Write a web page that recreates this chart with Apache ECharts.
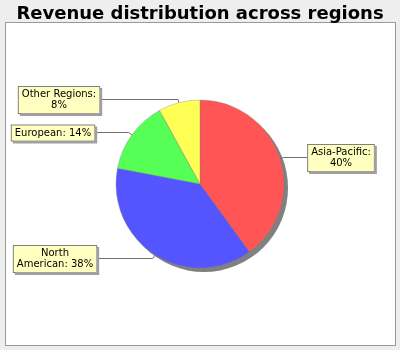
<!DOCTYPE html>
<html>
<head>
<meta charset="utf-8">
<script src="https://cdn.jsdelivr.net/npm/echarts@6/dist/echarts.min.js"></script>
<style>html,body{margin:0;padding:0;background:#eeeeee}#c{width:400px;height:350px}</style>
</head>
<body>
<div id="c"></div>
<script>
var regions = ['Asia-Pacific', 'North American', 'European', 'Other Regions'];
var shares = [40, 38, 14, 8];
var labelTexts = ['Asia-Pacific:\n40%', 'North\nAmerican: 38%', 'European: 14%', 'Other Regions:\n8%'];
var sliceColors = ['#ff5555', '#5555ff', '#55ff55', '#ffff55'];

var CX = 200, CY = 184, R = 84;
var total = shares.reduce(function (a, b) { return a + b; }, 0);
function midAngle(i) {
  var cum = 0;
  for (var k = 0; k < i; k++) cum += shares[k];
  return ((cum + shares[i] / 2) / total) * 2 * Math.PI;
}
var leftEdge = { 1: 97, 2: 95, 3: 100 };

var chart = echarts.init(document.getElementById('c'), null, { renderer: 'canvas' });
chart.setOption({
  backgroundColor: '#eeeeee',
  animation: false,
  textStyle: { fontFamily: 'DejaVu Sans' },
  title: {
    text: 'Revenue distribution across regions',
    left: 'center',
    top: 0,
    textStyle: { fontFamily: 'DejaVu Sans', fontSize: 18, fontWeight: 'bold', color: '#000' }
  },
  graphic: [{
    type: 'rect', z: 0, silent: true,
    shape: { x: 5.5, y: 22.5, width: 390, height: 323 },
    style: { fill: '#ffffff', stroke: '#999999', lineWidth: 1 }
  }],
  series: [{
    type: 'pie', z: 1, silent: true,
    center: [CX + 4, CY + 4], radius: R,
    label: { show: false }, labelLine: { show: false },
    itemStyle: { color: '#808080', borderWidth: 0 },
    emphasis: { disabled: true },
    data: [{ value: 1, name: 'shadow' }]
  }, {
    type: 'pie', z: 2,
    center: [CX, CY], radius: R,
    startAngle: 90, clockwise: true,
    avoidLabelOverlap: false,
    data: regions.map(function (n, i) {
      return { name: n, value: shares[i], itemStyle: { color: sliceColors[i] } };
    }),
    itemStyle: { borderColor: 'rgba(128,128,128,0.7)', borderWidth: 0.5 },
    label: {
      show: true, position: 'outside',
      formatter: function (p) { return labelTexts[p.dataIndex]; },
      fontFamily: 'DejaVu Sans', fontSize: 10, lineHeight: 11, color: '#000',
      align: 'center',
      backgroundColor: '#ffffc0', borderColor: '#808080', borderWidth: 1,
      padding: [2, 3],
      shadowColor: '#a0a0a0', shadowOffsetX: 2, shadowOffsetY: 2, shadowBlur: 0
    },
    labelLine: { show: true, lineStyle: { color: '#707070', width: 1 } },
    labelLayout: function (p) {
      var i = p.dataIndex;
      var a = midAngle(i);
      var dx = Math.sin(a), dy = -Math.cos(a);
      var p0 = [CX + 0.9 * R * dx, CY + 0.9 * R * dy];
      var ly = Math.round(CY + 1.05 * R * dy) + 0.5;
      var p1 = [CX + 1.05 * R * dx, ly];
      var right = dx > 0;
      var w = p.labelRect.width;
      var edgeX = right ? 307 : leftEdge[i];
      var cx = right ? edgeX + w / 2 : edgeX - w / 2;
      return {
        x: Math.round(cx), y: Math.round(ly), align: 'center', verticalAlign: 'middle',
        labelLinePoints: [p0, p1, [edgeX, ly]]
      };
    },
    emphasis: { disabled: true }
  }]
});
</script>
</body>
</html>
